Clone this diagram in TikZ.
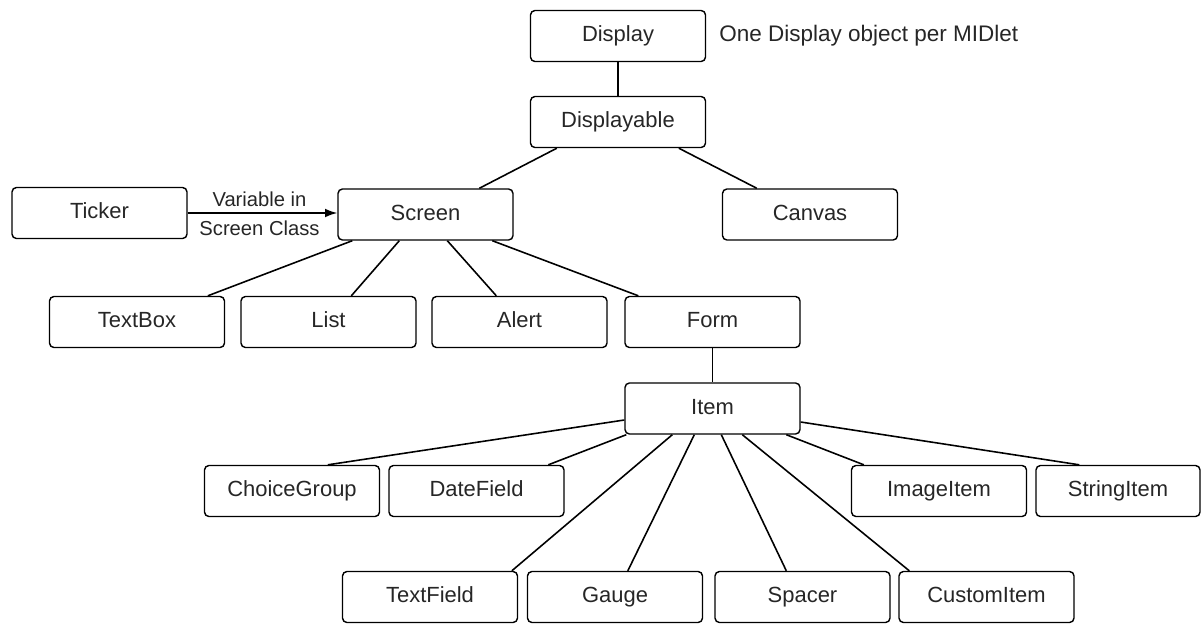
\documentclass[tikz,border=0pt]{standalone}
\usepackage{fontspec}
\setmainfont{Liberation Sans}
\usetikzlibrary{calc,arrows.meta}
\begin{document}
\begin{tikzpicture}[x=0.02cm,y=-0.02cm,
  box/.style={draw, line width=0.8pt, rounded corners=2.5pt, minimum width=3.5cm, minimum height=1.02cm, inner sep=0pt, text height=9pt, text depth=2.6pt, font=\fontsize{12.5}{14}\selectfont, text=black!85},
  conn/.style={line width=0.9pt},
  lbl/.style={font=\fontsize{11.5}{13}\selectfont, inner sep=0pt, text=black!85}]
\useasboundingbox (0,0) rectangle (1204,623);
\node[box] (disp) at (618,36) {Display};
\node[anchor=west, inner sep=0pt, font=\fontsize{12.8}{14}\selectfont, text=black!85] (note) at (719,36) {One Display object per MIDlet};
\node[box] (dable) at (618,122) {Displayable};
\node[box] (ticker) at (99.5,213) {Ticker};
\node[box] (screen) at (425.5,214.5) {Screen};
\node[box] (canvas) at (810,214.5) {Canvas};
\node[box] (textbox) at (137,322) {TextBox};
\node[box] (list) at (328.5,322) {List};
\node[box] (alert) at (519.5,322) {Alert};
\node[box] (form) at (712.5,322) {Form};
\node[box] (item) at (712.5,408.5) {Item};
\node[box] (choice) at (292,491) {ChoiceGroup};
\node[box] (date) at (476.5,491) {DateField};
\node[box] (image) at (939,491) {ImageItem};
\node[box, minimum width=3.28cm] (string) at (1118,491) {StringItem};
\node[box] (tfield) at (430,597) {TextField};
\node[box] (gauge) at (615,597) {Gauge};
\node[box] (spacer) at (802.5,597) {Spacer};
\node[box] (custom) at (986.5,597) {CustomItem};

\draw[conn] (disp.south) -- (dable.north);
\draw[conn] ($(dable.south west)+(27,0)$) -- ($(screen.north west)+(142,0)$);
\draw[conn] ($(dable.south west)+(149,0)$) -- ($(canvas.north west)+(35,0)$);
\draw[conn, -{Latex[length=7pt,width=5pt]}] (ticker.east) -- (ticker.east -| screen.west)
  node[lbl, pos=0.48, above=3pt] (v1) {Variable in}
  node[lbl, pos=0.48, below=4pt] (v2) {Screen Class};
\draw[conn] ($(screen.south west)+(15,0)$) -- ($(textbox.north west)+(159,0)$);
\draw[conn] ($(screen.south west)+(62,0)$) -- ($(list.north west)+(111,0)$);
\draw[conn] ($(screen.south west)+(110,0)$) -- ($(alert.north west)+(65,0)$);
\draw[conn] ($(screen.south west)+(155,0)$) -- ($(form.north west)+(14,0)$);
\draw[conn] (form.south) -- (item.north);
\draw[conn] ($(item.west)+(0,11.5)$) -- ($(choice.north west)+(124,0)$);
\draw[conn] ($(item.south west)+(2,0)$) -- ($(date.north west)+(160,0)$);
\draw[conn] ($(item.south west)+(48,0)$) -- ($(tfield.north west)+(170,0)$);
\draw[conn] ($(item.south west)+(70,0)$) -- ($(gauge.north west)+(101,0)$);
\draw[conn] ($(item.south west)+(97,0)$) -- ($(spacer.north west)+(72,0)$);
\draw[conn] ($(item.south west)+(118,0)$) -- ($(custom.north west)+(11,0)$);
\draw[conn] ($(item.south west)+(162,0)$) -- ($(image.north west)+(13,0)$);
\draw[conn] ($(item.east)+(0,13.5)$) -- ($(string.north west)+(44,0)$);
\end{tikzpicture}
\end{document}
